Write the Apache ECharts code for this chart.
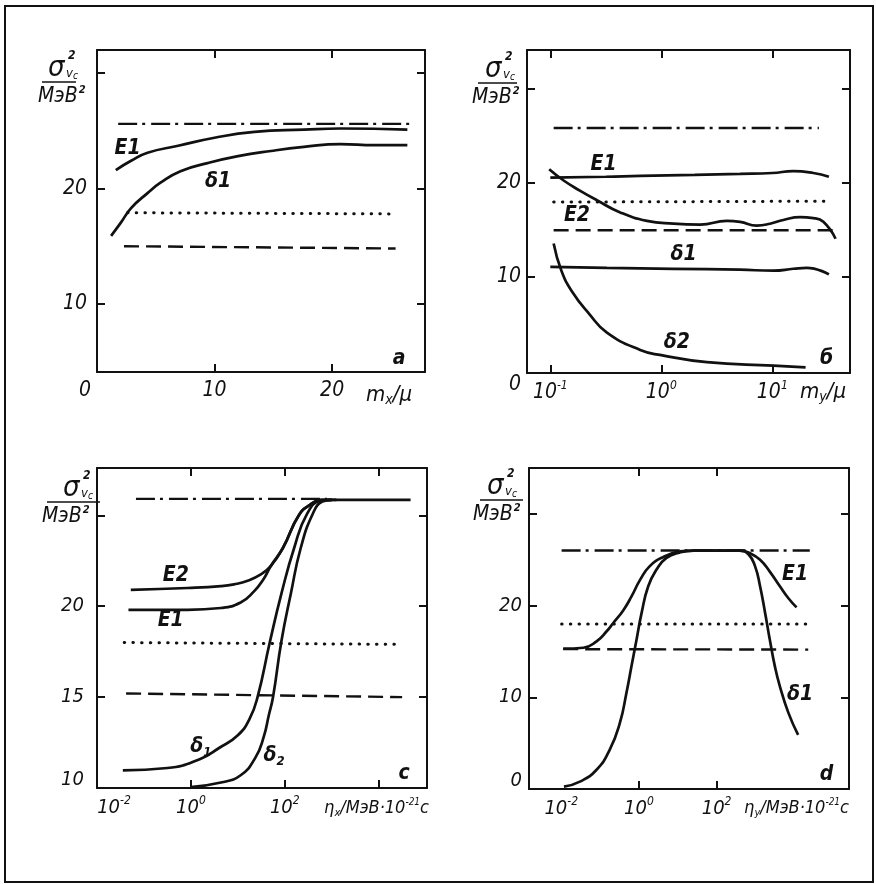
<!DOCTYPE html>
<html>
<head>
<meta charset="utf-8">
<script src="https://cdn.jsdelivr.net/npm/echarts@6/dist/echarts.min.js"></script>
<style>
  html, body { margin: 0; padding: 0; background: #fff; }
  #chart { width: 876px; height: 884px; }
</style>
</head>
<body>
<div id="chart"></div>
<script>
// ---------- panel а : σ² versus m_x/μ (linear x) ----------
const aYTicks = [10, 20, 30];
const aYLabels = [10, 20];
const aXTicks = [10, 20];
const aXLabels = [0, 10, 20];
const aDashDot = [[1.8, 25.6], [26.7, 25.6]];
const aDotted = [[2.6, 17.9], [25.0, 17.8]];
const aDashed = [[2.3, 15.0], [25.4, 14.8]];
const aE1 = [[1.6, 21.6], [2.9, 22.4], [4.3, 23.1], [6.9, 23.7], [10.0, 24.4], [13.4, 24.9], [17.6, 25.1], [20.7, 25.2], [26.4, 25.1]];
const aDelta1 = [[1.2, 15.9], [2.0, 17.0], [2.9, 18.3], [4.3, 19.6], [5.4, 20.5], [7.1, 21.5], [9.4, 22.2], [12.0, 22.8], [14.8, 23.25], [17.6, 23.6], [20.7, 23.85], [23.6, 23.75], [26.4, 23.75]];
const aNotes = [{ t: 'E1', x: 2.6, y: 23.5 }, { t: 'δ1', x: 10.3, y: 20.6 }, { t: 'a', x: 25.7, y: 5.3 }];

// ---------- panel б : σ² versus m_y/μ (x in decades) ----------
const bYTicks = [10, 20, 30];
const bYLabels = [0, 10, 20];
const bXTicks = [-1, 0, 1];
const bXLabels = [-1, 0, 1];
const bDashDot = [[-0.97, 25.8], [1.42, 25.8]];
const bDotted = [[-0.97, 17.9], [1.48, 18.0]];
const bDashed = [[-0.97, 14.9], [1.55, 14.9]];
const bE1 = [[-1.0, 20.5], [-0.5, 20.6], [-0.19, 20.7], [0.3, 20.8], [0.71, 20.9], [1.0, 21.0], [1.19, 21.2], [1.37, 21.0], [1.51, 20.6]];
const bE2 = [[-1.01, 21.4], [-0.88, 20.2], [-0.73, 19.1], [-0.58, 18.1], [-0.37, 16.8], [-0.13, 15.9], [0.11, 15.6], [0.35, 15.5], [0.59, 15.9], [0.71, 15.8], [0.86, 15.4], [0.98, 15.6], [1.10, 16.0], [1.25, 16.3], [1.37, 16.2], [1.46, 15.8], [1.57, 14.0]];
const bDelta1 = [[-1.0, 11.0], [-0.49, 10.9], [0.11, 10.8], [0.71, 10.7], [1.01, 10.6], [1.19, 10.8], [1.31, 10.9], [1.51, 10.2]];
const bDelta2 = [[-0.97, 13.5], [-0.9, 10.6], [-0.8, 8.3], [-0.65, 6.0], [-0.49, 4.0], [-0.19, 2.15], [0.0, 1.6], [0.41, 0.85], [1.01, 0.48], [1.30, 0.3]];
const bNotes = [{ t: 'E1', x: -0.52, y: 21.9 }, { t: 'E2', x: -0.76, y: 16.5 }, { t: 'δ1', x: 0.2, y: 12.3 }, { t: 'δ2', x: 0.14, y: 2.9 }, { t: 'б', x: 1.49, y: 1.2 }];

// ---------- panel c : σ² versus η_x (x in decades) ----------
const cYTicks = [15, 20, 25];
const cYLabels = [10, 15, 20];
const cXTicks = [0, 2, 4];
const cXLabels = [-2, 0, 2];
const cDashDot = [[-1.17, 25.9], [2.9, 25.9]];
const cDotted = [[-1.42, 18.0], [4.36, 17.9]];
const cDashed = [[-1.38, 15.2], [4.5, 15.0]];
const cE2 = [[-1.28, 20.9], [-0.07, 21.0], [0.64, 21.1], [0.92, 21.2], [1.21, 21.4], [1.49, 21.75], [1.70, 22.2], [1.96, 23.2], [2.30, 25.0], [2.55, 25.6], [2.8, 25.85], [3.1, 25.85], [4.68, 25.85]];
const cE1 = [[-1.33, 19.8], [-0.07, 19.8], [0.64, 19.9], [1.06, 20.2], [1.34, 20.8], [1.55, 21.5], [1.70, 22.2], [1.96, 23.2], [2.30, 25.0], [2.55, 25.6], [2.8, 25.85], [3.1, 25.85]];
const cDelta1 = [[-1.45, 10.97], [-0.5, 11.1], [0.2, 11.6], [0.6, 12.2], [1.0, 12.9], [1.25, 13.8], [1.42, 15.0], [1.68, 18.0], [1.93, 20.7], [2.2, 23.2], [2.48, 25.1], [2.77, 25.8], [3.0, 25.85]];
const cDelta2 = [[0.0, 10.05], [0.64, 10.3], [1.06, 10.7], [1.38, 11.7], [1.55, 12.8], [1.66, 14.0], [1.75, 15.0], [1.93, 18.1], [2.13, 20.7], [2.34, 23.2], [2.60, 25.1], [2.8, 25.75], [3.0, 25.85]];
const cNotes = [{ t: 'E2', x: -0.32, y: 21.7 }, { t: 'E1', x: -0.43, y: 19.2 }, { t: 'δ', sub: '1', x: 0.21, y: 12.3 }, { t: 'δ', sub: '2', x: 1.77, y: 11.8 }, { t: 'c', x: 4.54, y: 10.8 }];

// ---------- panel d : σ² versus η_y (x in decades) ----------
const dYTicks = [10, 20, 30];
const dYLabels = [0, 10, 20];
const dXTicks = [0, 2];
const dXLabels = [-2, 0, 2];
const dDashDot = [[-1.99, 26.0], [4.40, 26.0]];
const dDotted = [[-1.99, 18.0], [4.45, 18.0]];
const dDashed = [[-1.95, 15.25], [4.36, 15.2]];
const dE1 = [[-1.95, 15.3], [-1.43, 15.4], [-1.09, 16.1], [-0.83, 17.2], [-0.66, 18.1], [-0.40, 19.5], [-0.19, 21.0], [0.03, 22.8], [0.28, 24.3], [0.63, 25.3], [1.06, 25.9], [1.40, 26.0], [2.6, 26.0], [2.86, 25.7], [3.12, 25.0], [3.37, 23.7], [3.63, 22.1], [3.85, 20.8], [4.06, 19.8]];
const dDelta1 = [[-1.93, 0.25], [-1.52, 0.8], [-1.09, 2.1], [-0.75, 4.3], [-0.49, 7.2], [-0.32, 10.5], [-0.19, 13.4], [-0.06, 16.3], [0.07, 19.2], [0.24, 22.1], [0.45, 23.9], [0.71, 25.2], [1.06, 25.8], [1.40, 26.0], [2.6, 26.0], [2.82, 25.6], [2.99, 24.3], [3.12, 22.1], [3.25, 19.2], [3.37, 16.3], [3.50, 13.4], [3.63, 11.2], [3.85, 8.3], [4.10, 5.9]];
const dNotes = [{ t: 'E1', x: 4.02, y: 23.4 }, { t: 'δ1', x: 4.15, y: 10.3 }, { t: 'd', x: 4.83, y: 1.6 }];

// ---------- look ----------
const INK = '#111';
const FONT = "'Liberation Sans Narrow','DejaVu Sans Condensed','DejaVu Sans',sans-serif";
const txt = (size, extra) => Object.assign({ fontFamily: FONT, fontStyle: 'italic', fontSize: size, color: INK }, extra || {});

const STYLE = {
  solid: { color: INK, width: 2.7, type: 'solid' },
  dashdot: { color: INK, width: 2.4, type: [19, 5, 3, 6] },
  dotted: { color: INK, width: 3, type: [0.5, 8.2], cap: 'round' },
  dashed: { color: INK, width: 2.4, type: [15, 7] }
};

const panels = [
  {
    grid: { left: 97, top: 50, width: 328, height: 322 },
    x: [0, 27.9], y: [4.1, 32], decades: false,
    xTicks: aXTicks, xTop: aXTicks, xLabels: aXLabels, yTicks: aYTicks, yLabels: aYLabels,
    xMargin: 8, yMargin: 10, fs: 21,
    lines: [[aDashDot, 'dashdot'], [aDotted, 'dotted'], [aDashed, 'dashed'], [aE1, 'solid'], [aDelta1, 'solid']],
    notes: aNotes
  },
  {
    grid: { left: 527, top: 50, width: 323, height: 323 },
    x: [-1.21, 1.70], y: [-0.3, 34.1], decades: true,
    xTicks: bXTicks, xTop: bXTicks, xLabels: bXLabels, yTicks: bYTicks, yLabels: bYLabels,
    xMargin: 7, yMargin: 6, fs: 21,
    lines: [[bDashDot, 'dashdot'], [bDotted, 'dotted'], [bDashed, 'dashed'], [bE1, 'solid'], [bE2, 'solid'], [bDelta1, 'solid'], [bDelta2, 'solid']],
    notes: bNotes
  },
  {
    grid: { left: 97, top: 468, width: 330, height: 320 },
    x: [-2.0, 5.03], y: [10, 27.6], decades: true,
    xTicks: cXTicks, xTop: cXTicks, xLabels: cXLabels, yTicks: cYTicks, yLabels: cYLabels,
    xMargin: 7, yMargin: 13, fs: 20,
    lines: [[cDashDot, 'dashdot'], [cDotted, 'dotted'], [cDashed, 'dashed'], [cE2, 'solid'], [cE1, 'solid'], [cDelta1, 'solid'], [cDelta2, 'solid']],
    notes: cNotes
  },
  {
    grid: { left: 529, top: 468, width: 320, height: 321 },
    x: [-2.83, 5.41], y: [0, 35], decades: true,
    xTicks: dXTicks, xTop: dXTicks, xLabels: dXLabels, yTicks: dYTicks, yLabels: dYLabels,
    xMargin: 7, yMargin: 7, fs: 20,
    lines: [[dDashDot, 'dashdot'], [dDotted, 'dotted'], [dDashed, 'dashed'], [dE1, 'solid'], [dDelta1, 'solid']],
    notes: dNotes
  }
];

const axisLine = { show: true, onZero: false, lineStyle: { color: INK, width: 2 } };
const tickStyle = (vals) => ({ show: true, inside: true, length: 8, customValues: vals, lineStyle: { color: INK, width: 2 } });

const grids = [], xAxes = [], yAxes = [], series = [];

panels.forEach((p, i) => {
  grids.push(p.grid);
  const fs = p.fs;
  const rich = {
    n: txt(fs),
    e: txt(12, { padding: [0, 0, 14, 0] }),
    nR: txt(fs, { padding: [0, 0, 0, 34] }),
    zL: txt(fs, { padding: [0, 24, 0, 0] }),
    zD: txt(fs, { padding: [28, 0, 0, 0] }),
    zU: txt(fs, { padding: [0, 0, 16, 0] })
  };
  const xFmt = (v) => {
    const k = Math.round(v);
    if (!p.decades) return k === 0 ? '{zL|0}' : '{n|' + k + '}';
    const head = (i === 2 && k === -2) ? 'nR' : 'n';
    return '{' + head + '|10}{e|' + k + '}';
  };
  const yFmt = (v) => {
    const k = Math.round(v);
    if (i === 1 && k === 0) return '{zD|0}';
    if ((i === 2 && k === 10) || (i === 3 && k === 0)) return '{zU|' + k + '}';
    return '{n|' + k + '}';
  };
  const xBase = { type: 'value', gridIndex: i, min: p.x[0], max: p.x[1], splitLine: { show: false }, axisLine };
  xAxes.push(Object.assign({}, xBase, {
    position: 'bottom',
    axisTick: tickStyle(p.xTicks),
    axisLabel: Object.assign(txt(fs), { show: true, customValues: p.xLabels, formatter: xFmt, margin: p.xMargin, rich })
  }));
  xAxes.push(Object.assign({}, xBase, {
    position: 'top', axisTick: tickStyle(p.xTop), axisLabel: { show: false }
  }));
  const yBase = { type: 'value', gridIndex: i, min: p.y[0], max: p.y[1], splitLine: { show: false }, axisLine };
  yAxes.push(Object.assign({}, yBase, {
    position: 'left',
    axisTick: tickStyle(p.yTicks),
    axisLabel: Object.assign(txt(fs), { show: true, customValues: p.yLabels, formatter: yFmt, margin: p.yMargin, rich })
  }));
  yAxes.push(Object.assign({}, yBase, {
    position: 'right', axisTick: tickStyle(p.yTicks), axisLabel: { show: false }
  }));

  p.lines.forEach(([data, kind]) => {
    series.push({
      type: 'line', xAxisIndex: 2 * i, yAxisIndex: 2 * i, data,
      symbol: 'none', showSymbol: false, silent: true,
      smooth: kind === 'solid' ? 0.5 : false,
      lineStyle: STYLE[kind], z: kind === 'solid' ? 4 : 3
    });
  });

  series.push({
    type: 'scatter', xAxisIndex: 2 * i, yAxisIndex: 2 * i, silent: true, z: 5,
    symbol: 'circle', symbolSize: 1, itemStyle: { color: 'rgba(0,0,0,0)' },
    data: p.notes.map((n) => ({ value: [n.x, n.y], name: n.t, sub: n.sub || '' })),
    label: {
      show: true, position: 'inside', color: INK, opacity: 1,
      fontFamily: FONT, fontStyle: 'italic', fontSize: 21,
      formatter: (q) => q.data.sub ? '{m|' + q.name + '}{s|' + q.data.sub + '}' : '{m|' + q.name + '}',
      rich: { m: txt(21, { color: INK, fontWeight: 'bold' }), s: txt(13, { color: INK, fontWeight: 'bold', padding: [12, 0, 0, 0] }) }
    }
  });
});

// ---------- titles, axis names, frame ----------
const gfx = [];
const T = (x, y, text, size, align, extra) => gfx.push({
  type: 'text', x, y, silent: true,
  style: Object.assign({ text, fontFamily: FONT, fontStyle: 'italic', fontSize: size, fill: INK, align: align || 'left', verticalAlign: 'middle' }, extra || {})
});

// vertical fraction σ²_{v_c} / МэВ²
const fractions = [
  { barX: 42, barY: 82, barW: 34, sigX: 48, unitX: 38 },
  { barX: 478, barY: 83, barW: 39, sigX: 485, unitX: 472 },
  { barX: 47, barY: 502, barW: 53, sigX: 63, unitX: 42 },
  { barX: 480, barY: 500, barW: 43, sigX: 487, unitX: 473 }
];
const unitRich = {
  u: { fontFamily: FONT, fontStyle: 'italic', fontSize: 21, fill: INK },
  p: { fontFamily: FONT, fontStyle: 'italic', fontWeight: 'bold', fontSize: 11, fill: INK, padding: [0, 0, 14, 1] }
};
fractions.forEach((f) => {
  T(f.sigX, f.barY - 14, 'σ', 29);
  T(f.sigX + 20, f.barY - 26, '2', 12, 'left', { fontWeight: 'bold' });
  T(f.sigX + 18, f.barY - 8, 'v', 13);
  T(f.sigX + 25, f.barY - 6, 'c', 10);
  gfx.push({ type: 'line', silent: true, shape: { x1: f.barX, y1: f.barY, x2: f.barX + f.barW, y2: f.barY }, style: { stroke: INK, lineWidth: 1.5 } });
  gfx.push({
    type: 'text', x: f.unitX, y: f.barY + 15, silent: true,
    style: { text: '{u|МэВ}{p|2}', rich: unitRich, align: 'left', verticalAlign: 'middle', fontFamily: FONT, fontSize: 21, fill: INK }
  });
});

const axisNames = [
  { x: 412, y: 395, size: 22, text: '{m|m}{s|x}{m|/μ}' },
  { x: 846, y: 392, size: 22, text: '{m|m}{s|y}{m|/μ}' },
  { x: 429, y: 808, size: 18, text: '{m|η}{s|x}{m|/МэВ·10}{p|-21}{m|с}' },
  { x: 849, y: 808, size: 18, text: '{m|η}{s|y}{m|/МэВ·10}{p|-21}{m|с}' }
];
axisNames.forEach((a) => gfx.push({
  type: 'text', x: a.x, y: a.y, silent: true,
  style: {
    text: a.text, align: 'right', verticalAlign: 'middle', fontFamily: FONT, fontStyle: 'italic', fontSize: a.size, fill: INK,
    rich: {
      m: txt(a.size),
      s: txt(Math.round(a.size * 0.62), { padding: [10, 0, 0, 0] }),
      p: txt(10, { padding: [0, 0, 12, 0] })
    }
  }
}));

gfx.push({ type: 'rect', silent: true, shape: { x: 5, y: 6, width: 868, height: 876 }, style: { fill: 'none', stroke: INK, lineWidth: 2 } });

const chart = echarts.init(document.getElementById('chart'), null, { renderer: 'canvas' });
chart.setOption({
  backgroundColor: '#fff',
  animation: false,
  grid: grids,
  xAxis: xAxes,
  yAxis: yAxes,
  series,
  graphic: gfx
});
</script>
</body>
</html>
